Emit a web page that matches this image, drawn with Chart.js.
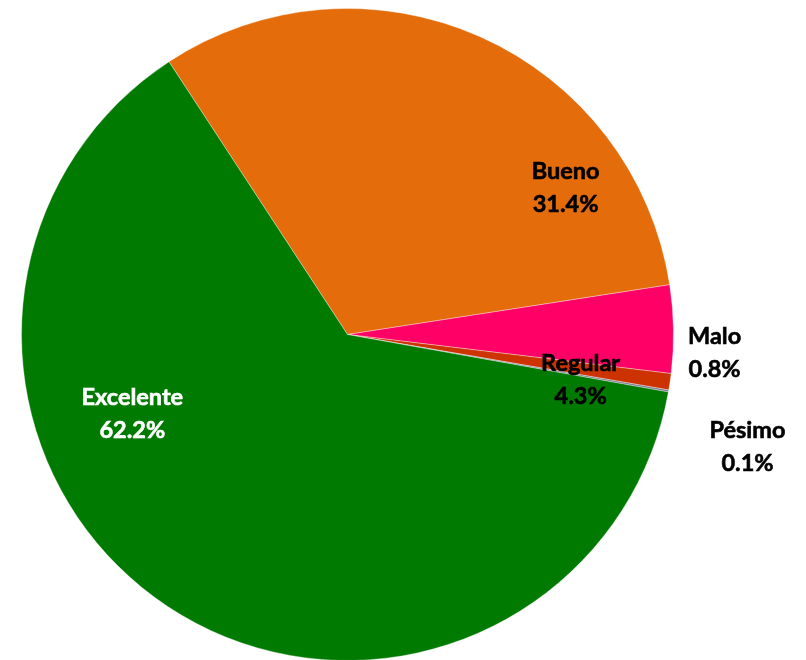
<!DOCTYPE html>
<html>
<head>
<meta charset="utf-8">
<script src="https://cdn.jsdelivr.net/npm/chart.js@4"></script>
<style>
html,body{margin:0;padding:0;background:#fff;overflow:hidden;}
#wrap{width:806px;height:680px;}
</style>
</head>
<body>
<div id="wrap"><canvas id="c" width="806" height="680"></canvas></div>
<script>
const categories = ["Bueno", "Regular", "Malo", "Pésimo", "Excelente"];
const values = [31.4, 4.3, 0.8, 0.1, 62.2];
const percentLabels = ["31.4%", "4.3%", "0.8%", "0.1%", "62.2%"];
const colors = ["#E46C0A", "#FF0066", "#CC3300", "#7A7A8C", "#007A00"];
const labelColors = ["#000000", "#000000", "#000000", "#000000", "#ffffff"];
// label anchor offsets relative to pie centre, in units of radius
const labelOffsets = [[0.669,-0.450],[0.715,0.139],[1.126,0.055],[1.227,0.346],[-0.660,0.243]];

const labelPlugin = {
  id: 'pieLabels',
  afterDatasetsDraw(chart) {
    const ctx = chart.ctx;
    const meta = chart.getDatasetMeta(0);
    ctx.save();
    ctx.font = 'bold 23.5px Lato, "Open Sans", sans-serif';
    ctx.textAlign = 'center';
    ctx.textBaseline = 'middle';
    meta.data.forEach((arc, i) => {
      const R = arc.outerRadius;
      const x = arc.x + labelOffsets[i][0] * R;
      const y = arc.y + labelOffsets[i][1] * R;
      ctx.fillStyle = labelColors[i];
      ctx.strokeStyle = labelColors[i];
      ctx.lineWidth = 0.6;
      ctx.fillText(categories[i], x, y - 16.5);
      ctx.strokeText(categories[i], x, y - 16.5);
      ctx.fillText(percentLabels[i], x, y + 16.5);
      ctx.strokeText(percentLabels[i], x, y + 16.5);
    });
    ctx.restore();
  }
};

new Chart(document.getElementById('c'), {
  type: 'pie',
  data: {
    labels: categories,
    datasets: [{
      data: values,
      backgroundColor: colors,
      borderColor: 'rgba(255,255,255,0.35)',
      borderWidth: 1
    }]
  },
  options: {
    responsive: false,
    animation: false,
    rotation: -33.2,
    layout: { padding: { left: 21, right: 132, top: 8, bottom: 19 } },
    plugins: { legend: { display: false }, tooltip: { enabled: false } }
  },
  plugins: [labelPlugin]
});
</script>
</body>
</html>
